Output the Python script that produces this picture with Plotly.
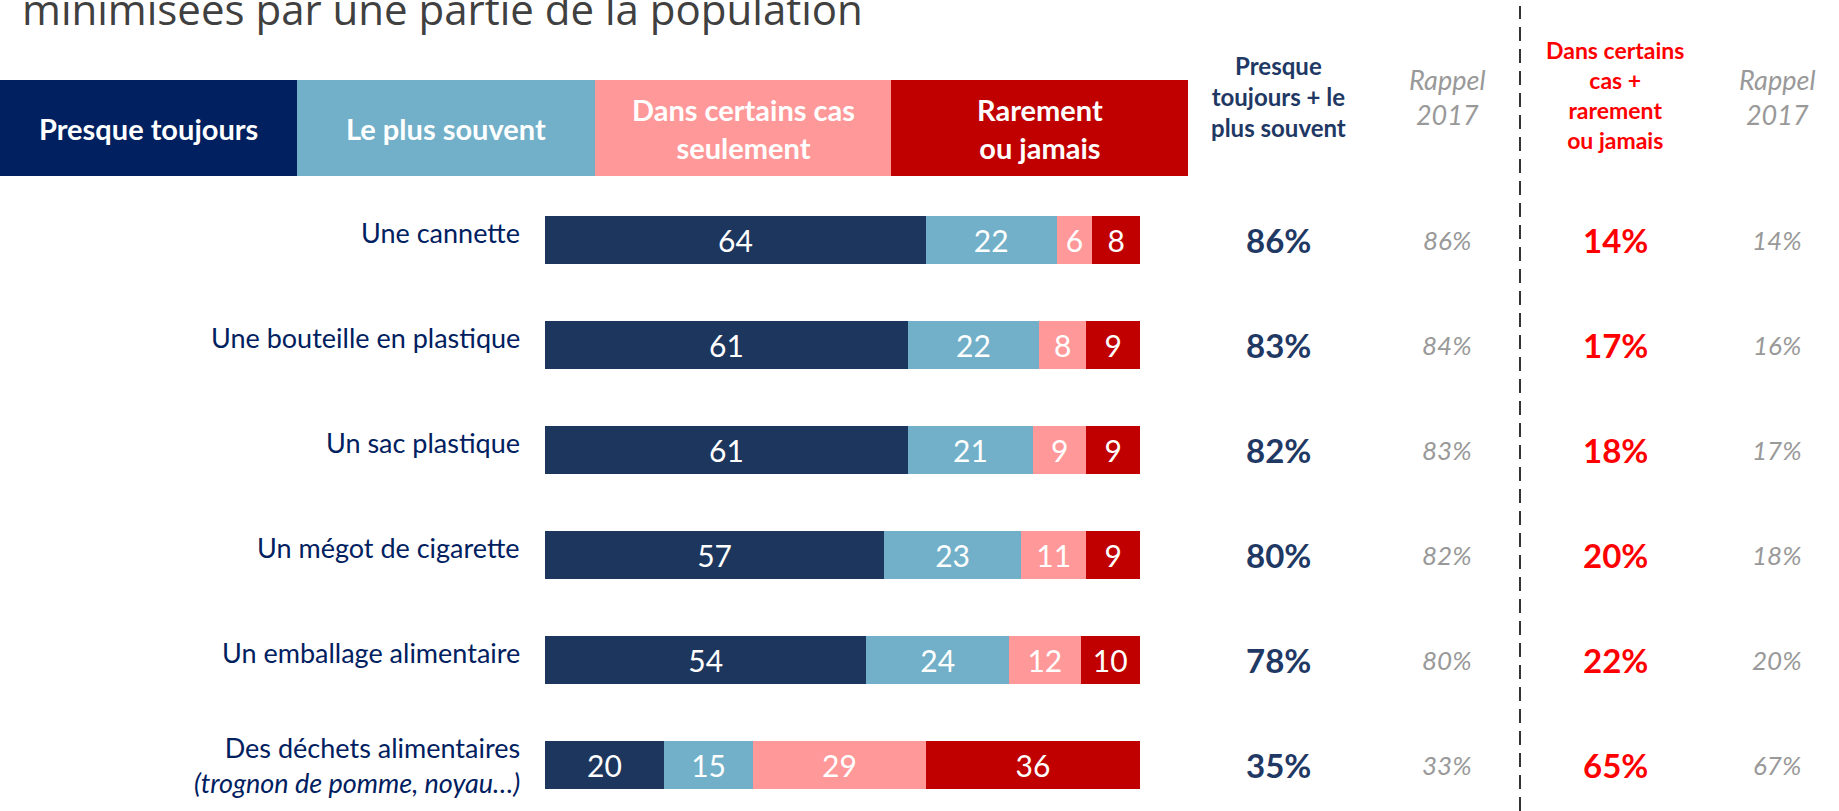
import plotly.graph_objects as go

W, H = 1839, 811

categories = [
    "Une cannette",
    "Une bouteille en plastique",
    "Un sac plastique",
    "Un mégot de cigarette",
    "Un emballage alimentaire",
    "Des déchets alimentaires",
]
category_labels = [
    "Une cannette",
    "Une bouteille en plastique",
    "Un sac plastique",
    "Un mégot de cigarette",
    "Un emballage alimentaire",
    "Des déchets alimentaires<br><i>(trognon de pomme, noyau…)</i>",
]
presque_toujours = [64, 61, 61, 57, 54, 20]
plus_souvent = [22, 22, 21, 23, 24, 15]
certains_cas = [6, 8, 9, 11, 12, 29]
rarement = [8, 9, 9, 9, 10, 36]

total_positif = ["86%", "83%", "82%", "80%", "78%", "35%"]
rappel_positif = ["86%", "84%", "83%", "82%", "80%", "33%"]
total_negatif = ["14%", "17%", "18%", "20%", "22%", "65%"]
rappel_negatif = ["14%", "16%", "17%", "18%", "20%", "67%"]

series_names = [
    "Presque toujours",
    "Le plus souvent",
    "Dans certains cas<br>seulement",
    "Rarement<br>ou jamais",
]
title_text = "minimisées par une partie de la population"

BAR_COLORS = ["#1d365d", "#71b0c8", "#ff9999", "#c00000"]
HEADER_COLORS = ["#00205f", "#71b0c8", "#ff9999", "#c00000"]
FONT = "Lato, 'Open Sans', sans-serif"


def px_x(x):
    return x / W


def px_y(y):
    return 1 - y / H


fig = go.Figure()

for name, vals, color in zip(
    series_names, [presque_toujours, plus_souvent, certains_cas, rarement], BAR_COLORS
):
    fig.add_trace(
        go.Bar(
            y=categories,
            x=vals,
            name=name,
            orientation="h",
            marker=dict(color=color, line=dict(width=0)),
            width=0.46,
            text=vals,
            textposition="inside",
            insidetextanchor="middle",
            textangle=0,
            textfont=dict(color="white", size=30, family=FONT),
            hoverinfo="skip",
            showlegend=False,
        )
    )

annotations = []
shapes = []

# title (partly cut at the top of the slide)
annotations.append(
    dict(
        text=title_text, x=px_x(20), y=px_y(8), xref="paper", yref="paper",
        xanchor="left", yanchor="middle", showarrow=False,
        font=dict(family="'Open Sans', sans-serif", size=42, color="#404040"),
    )
)

# header boxes
edges = [0, 297, 595, 891, 1188]
for i, name in enumerate(series_names):
    shapes.append(
        dict(
            type="rect", xref="paper", yref="paper",
            x0=px_x(edges[i]), x1=px_x(edges[i + 1]),
            y0=px_y(176), y1=px_y(80),
            fillcolor=HEADER_COLORS[i], line=dict(width=0), layer="below",
        )
    )
    annotations.append(
        dict(
            text="<b>%s</b>" % name,
            x=px_x((edges[i] + edges[i + 1]) / 2), y=px_y(128),
            xref="paper", yref="paper", xanchor="center", yanchor="middle",
            showarrow=False, font=dict(family=FONT, size=29, color="white"),
        )
    )

# column headers
col_x = [1278, 1447, 1615, 1777]
annotations += [
    dict(text="<b>Presque<br>toujours + le<br>plus souvent</b>", x=px_x(col_x[0]), y=px_y(97),
         font=dict(family=FONT, size=24, color="#1f3864")),
    dict(text="<i>Rappel<br>2017</i>", x=px_x(col_x[1]), y=px_y(97),
         font=dict(family=FONT, size=27, color="#999999")),
    dict(text="<b>Dans certains<br>cas +<br>rarement<br>ou jamais</b>", x=px_x(col_x[2]), y=px_y(95),
         font=dict(family=FONT, size=23, color="#ff0000")),
    dict(text="<i>Rappel<br>2017</i>", x=px_x(col_x[3]), y=px_y(97),
         font=dict(family=FONT, size=27, color="#999999")),
]
for a in annotations[-4:]:
    a.update(xref="paper", yref="paper", xanchor="center", yanchor="middle", showarrow=False)

# category labels and value columns
for i, cat in enumerate(categories):
    single = "<br>" not in category_labels[i]
    annotations.append(
        dict(text=category_labels[i], x=px_x(522), y=cat, xref="paper", yref="y",
             xanchor="right", yanchor="middle", showarrow=False, align="right",
             yshift=8 if single else 0,
             font=dict(family=FONT, size=27, color="#002060"))
    )
    for x, txt, size, color, style in [
        (col_x[0], total_positif[i], 33, "#1f3864", "b"),
        (col_x[1], rappel_positif[i], 26, "#999999", "i"),
        (col_x[2], total_negatif[i], 33, "#ff0000", "b"),
        (col_x[3], rappel_negatif[i], 26, "#999999", "i"),
    ]:
        annotations.append(
            dict(text="<%s>%s</%s>" % (style, txt, style), x=px_x(x), y=cat,
                 xref="paper", yref="y", xanchor="center", yanchor="middle",
                 showarrow=False, font=dict(family=FONT, size=size, color=color))
        )

# dashed separator
shapes.append(
    dict(type="line", xref="paper", yref="paper", x0=px_x(1520), x1=px_x(1520),
         y0=0, y1=px_y(6), line=dict(color="#333333", width=2, dash="14px,8px"))
)

fig.update_layout(
    width=W,
    height=H,
    margin=dict(l=0, r=0, t=0, b=0),
    barmode="stack",
    paper_bgcolor="white",
    plot_bgcolor="white",
    uniformtext=dict(minsize=30, mode="show"),
    xaxis=dict(domain=[px_x(545), px_x(1140)], range=[0, 100], visible=False, fixedrange=True),
    yaxis=dict(
        type="category", categoryorder="array", categoryarray=categories,
        range=[5 + (H - 765) / 105, -240 / 105], visible=False, fixedrange=True,
    ),
    annotations=annotations,
    shapes=shapes,
)

# the slide starts at the page corner, so drop the default body margin
fig.write_html(
    "out.html",
    config={"displayModeBar": False},
    post_script="document.body.style.margin = '0';",
)
